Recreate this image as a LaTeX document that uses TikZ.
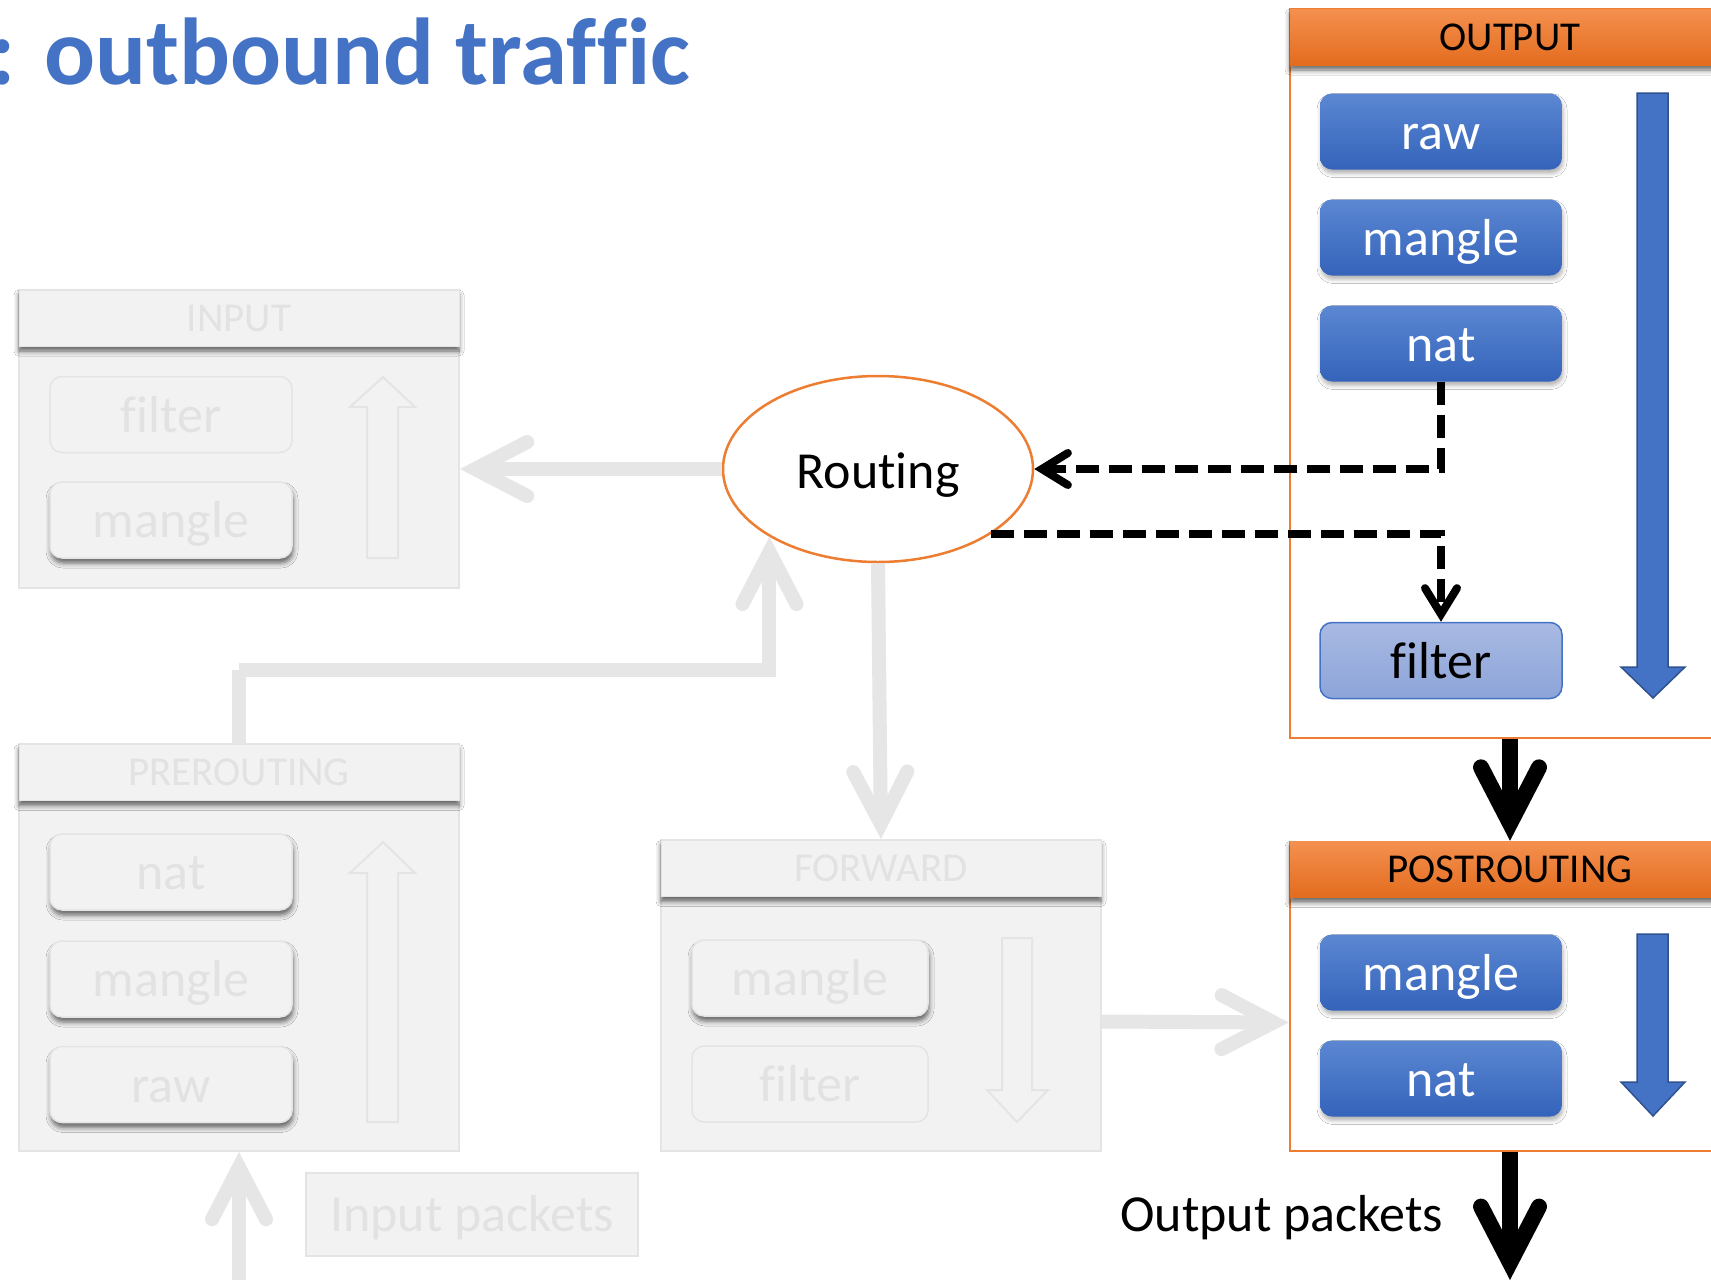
\documentclass[tikz,border=0pt]{standalone}
\usepackage{fontspec}
\setmainfont{Carlito}[Ligatures=NoCommon]
\usetikzlibrary{shapes.geometric,arrows.meta,shadows.blur,calc}

\definecolor{gfill}{HTML}{F2F2F2}
\definecolor{gline}{HTML}{E4E4E4}
\definecolor{gtext}{HTML}{E2E2E2}
\definecolor{garrow}{HTML}{E6E6E6}
\definecolor{orng}{HTML}{ED7D31}
\definecolor{orngtop}{HTML}{F4904F}
\definecolor{orngbot}{HTML}{E36C1E}
\definecolor{offblue}{HTML}{4472C4}
\definecolor{bluetop}{HTML}{5B87D2}
\definecolor{bluebot}{HTML}{3463BA}
\definecolor{bluedark}{HTML}{2F528F}
\definecolor{ltbluetop}{HTML}{A9BAE3}
\definecolor{ltbluebot}{HTML}{8CA4D8}

\tikzset{
  boxfont/.style={font=\fontsize{52}{60}\selectfont},
  headfont/.style={font=\fontsize{41}{48}\selectfont},
  % chain frames
  body/.style={draw=gline, fill=gfill, line width=2pt, minimum width=440pt, inner sep=0pt},
  obody/.style={draw=orng, fill=white, line width=2.5pt, minimum width=440pt, inner sep=0pt},
  headbase/.style={minimum width=440pt, minimum height=56pt, inner sep=0pt, headfont,
    text height=30pt, text depth=4pt,
    blur shadow={shadow xshift=0pt, shadow yshift=-5pt, shadow blur radius=5pt, shadow opacity=60}},
  ghead/.style={headbase, draw=gline, fill=gfill, line width=1pt, text=gtext},
  ohead/.style={headbase, top color=orngtop, bottom color=orngbot, text=black},
  % tables
  tbl/.style={rounded corners=12pt, minimum width=242pt, minimum height=76pt, inner sep=0pt,
    boxfont, text height=40pt, text depth=5pt},
  gtblflat/.style={tbl, draw=gline, fill=gfill, line width=1.5pt, text=gtext},
  gtbl/.style={gtblflat,
    blur shadow={shadow xshift=1pt, shadow yshift=-5pt, shadow blur radius=5pt, shadow opacity=60}},
  btbl/.style={tbl, top color=bluetop, bottom color=bluebot, text=white,
    blur shadow={shadow xshift=1pt, shadow yshift=-4pt, shadow blur radius=4pt, shadow opacity=30}},
  ltbl/.style={tbl, top color=ltbluetop, bottom color=ltbluebot, draw=offblue, line width=1.5pt, text=black},
  % flow direction arrows inside the chains
  gflow/.style={draw=gline, line width=2pt, line join=miter},
  bflow/.style={draw=bluedark, fill=offblue, line width=1.5pt, line join=miter},
  % connectors
  garr/.style={draw=garrow, line width=14pt,
    -{Straight Barb[length=52pt,width=54pt,line cap=round,line join=miter]}},
  darr/.style={draw=black, line width=8pt, dash pattern=on 23pt off 10pt,
    -{Straight Barb[length=26pt,width=32pt,line cap=round,line join=miter]}},
  barr/.style={draw=black, line width=16pt,
    -{Straight Barb[length=56pt,width=58pt,line cap=round,line join=miter]}},
}

\begin{document}
\begin{tikzpicture}[x=1pt, y=-1pt]
\useasboundingbox (0,0) rectangle (1711,1280);
\fill[white] (0,0) rectangle (1711,1280);

% title
\node[anchor=base east, inner sep=0pt, font=\fontsize{95}{100}\selectfont\bfseries, text=offblue]
  (title) at (690,84) {: outbound traffic};

% INPUT chain
\node[body, minimum height=298pt] (inp) at (239,439) {};
\node[ghead] (inph) at (239,318) {INPUT};
\node[gtblflat] (inpfilter) at (171,414.5) {filter};
\node[gtbl] (inpmangle) at (171,520) {mangle};
\draw[gflow] (367,558) -- (367,407) -- (350,407) -- (383,377) -- (415,407) -- (398,407) -- (398,558) -- cycle;

% PREROUTING chain
\node[body, minimum height=407pt] (pre) at (239,947.5) {};
\node[ghead] (preh) at (239,772.5) {PREROUTING};
\node[gtbl] (prenat) at (171,872) {nat};
\node[gtbl] (premangle) at (171,979) {mangle};
\node[gtbl] (preraw) at (171,1084.5) {raw};
\draw[gflow] (367,1122) -- (367,873) -- (350,873) -- (383,842) -- (415,873) -- (398,873) -- (398,1122) -- cycle;

% FORWARD chain
\node[body, minimum height=311pt] (fwd) at (881,995.5) {};
\node[ghead] (fwdh) at (881,868.5) {FORWARD};
\node[gtbl, minimum width=236pt] (fwdmangle) at (810,978) {mangle};
\node[gtblflat, minimum width=236pt] (fwdfilter) at (810,1084) {filter};
\draw[gflow] (1002,938) -- (1032,938) -- (1032,1090) -- (1048,1090) -- (1017,1122) -- (987,1090) -- (1002,1090) -- cycle;

% OUTPUT chain
\node[obody, minimum height=729pt] (out) at (1510,373.5) {};
\node[ohead] (outh) at (1510,37) {OUTPUT};
\node[btbl] (outraw) at (1441,131.5) {raw};
\node[btbl] (outmangle) at (1441,237.5) {mangle};
\node[btbl] (outnat) at (1441,343.5) {nat};
\node[ltbl] (outfilter) at (1441,660.5) {filter};
\draw[bflow] (1637,93) -- (1668,93) -- (1668,667) -- (1685,667) -- (1653,698) -- (1621,667) -- (1637,667) -- cycle;

% POSTROUTING chain
\node[obody, minimum height=309pt] (post) at (1510,996.5) {};
\node[ohead] (posth) at (1510,869.5) {POSTROUTING};
\node[btbl] (postmangle) at (1441,972.5) {mangle};
\node[btbl] (postnat) at (1441,1078.5) {nat};
\draw[bflow] (1637,934) -- (1668,934) -- (1668,1082) -- (1685,1082) -- (1653,1116) -- (1621,1082) -- (1637,1082) -- cycle;

% routing decision
\node[ellipse, draw=orng, fill=white, line width=2.5pt, minimum width=310pt, minimum height=186pt,
  inner sep=0pt, boxfont, text height=42pt, text depth=4pt] (routing) at (878,469) {Routing};

% packet labels
\node[draw=gline, fill=gfill, line width=1.5pt, minimum width=332pt, minimum height=83pt, inner sep=0pt,
  text=gtext, boxfont, text height=40pt, text depth=7pt] (inpk) at (472,1214.5) {Input packets};
\node[anchor=base east, inner sep=0pt, boxfont] (outpk) at (1443,1231) {Output packets};

% faded connectors (inbound / forwarded path)
\coordinate (inpsrc) at (239,1280);
\coordinate (prebend) at (239,670);
\draw[garr] (inpsrc) -- (pre.south);
\draw[garr, -] (preh.north) -- (prebend);
\draw[garr] (prebend) -| (routing.212);
\draw[garr] (routing.west) -- (routing.west -| inp.east);
\draw[garr] (routing.south) -- (fwd.north);
\draw[garr] ($(fwd.east)+(0,26)$) -- ($(post.west)+(0,26)$);

% outbound path
\draw[darr] (outnat.south) |- (routing.east);
\draw[darr] (routing.-30) -| (outfilter.north);
\coordinate (outdst) at (1510,1280);
\draw[barr] (out.south) -- (post.north);
\draw[barr] (post.south) -- (outdst);
\end{tikzpicture}
\end{document}
